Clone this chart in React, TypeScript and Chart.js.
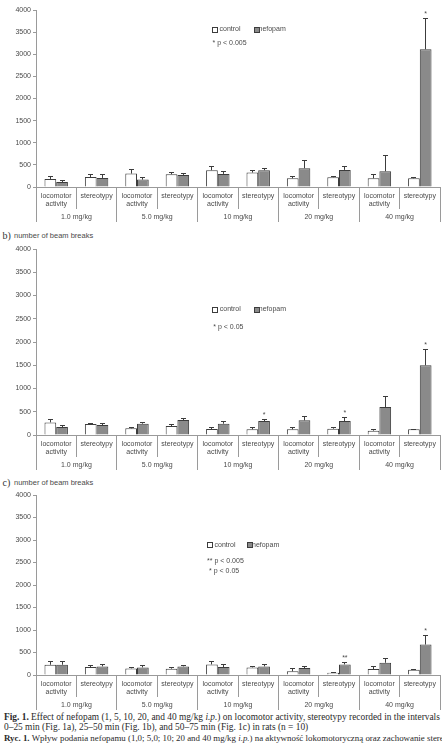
import React, { useEffect, useRef } from 'react';
import { Chart, registerables } from 'chart.js';

Chart.register(...registerables);

// Category axis: two measures per dose
const subLabels: string[][] = [
  ['locomotor', 'activity'], ['stereotypy'],
  ['locomotor', 'activity'], ['stereotypy'],
  ['locomotor', 'activity'], ['stereotypy'],
  ['locomotor', 'activity'], ['stereotypy'],
  ['locomotor', 'activity'], ['stereotypy'],
];
const doseLabels = ['1.0 mg/kg', '5.0 mg/kg', '10 mg/kg', '20 mg/kg', '40 mg/kg'];
const yMax = 4000;
const yStep = 500;

// a) 0–25 min
const controlA = [182, 227, 303, 288, 379, 326, 197, 220, 197, 197];
const controlErrA = [61, 46, 99, 30, 76, 45, 38, 15, 83, 23];
const nefopamA = [114, 205, 167, 273, 296, 379, 424, 387, 356, 3112];
const nefopamErrA = [38, 68, 38, 38, 53, 45, 182, 68, 356, 700];
const sigA = ['', '', '', '', '', '', '', '', '', '*'];

// b) 25–50 min
const controlB = [271, 236, 143, 193, 129, 122, 122, 136, 93, 122];
const controlErrB = [72, 21, 28, 43, 42, 36, 43, 29, 15, 7];
const nefopamB = [171, 214, 243, 321, 243, 301, 315, 301, 602, 1499];
const nefopamErrB = [43, 43, 21, 36, 57, 43, 86, 65, 222, 329];
const sigB = ['', '', '', '', '', '*', '', '*', '', '*'];

// c) 50–75 min
const controlC = [228, 176, 147, 140, 235, 169, 81, 52, 132, 118];
const controlErrC = [66, 37, 29, 22, 59, 22, 59, 7, 59, 14];
const nefopamC = [228, 191, 169, 191, 176, 191, 155, 235, 272, 677];
const nefopamErrC = [73, 44, 44, 15, 59, 44, 29, 52, 96, 205];
const sigC = ['', '', '', '', '', '', '', '**', '', '*'];

const SANS = '"Liberation Sans", Arial, sans-serif';
const SERIF = '"Liberation Serif", "Times New Roman", serif';
const TEXT = '#4a4a4a';
const AXIS = '#9a9a9a';
const EDGE = '#3c3c3c';
const FILL_N = '#8a8a8a';

type PanelProps = {
  top: number;
  height: number;
  padTop: number;
  axisH: number;
  control: number[];
  controlErr: number[];
  nefopam: number[];
  nefopamErr: number[];
  sig: string[];
};

const align = (v: number) => Math.round(v - 0.5) + 0.5;

function Panel(p: PanelProps) {
  const ref = useRef<HTMLCanvasElement>(null);

  useEffect(() => {
    if (!ref.current) return;
    const errs = [p.controlErr, p.nefopamErr];

    const extras = {
      id: 'beamExtras',
      afterDatasetsDraw(chart: any) {
        const ctx = chart.ctx;
        const y = chart.scales.y;
        ctx.save();
        ctx.strokeStyle = EDGE;
        ctx.lineWidth = 1;
        [0, 1].forEach((di) => {
          const meta = chart.getDatasetMeta(di);
          const vals = chart.data.datasets[di].data as number[];
          meta.data.forEach((bar: any, i: number) => {
            const x = align(bar.x);
            const y0 = y.getPixelForValue(vals[i]);
            const y1 = align(y.getPixelForValue(vals[i] + errs[di][i]));
            ctx.beginPath();
            ctx.moveTo(x, y0);
            ctx.lineTo(x, y1);
            ctx.moveTo(x - 2.5, y1);
            ctx.lineTo(x + 2.5, y1);
            ctx.stroke();
            if (di === 1 && p.sig[i]) {
              ctx.fillStyle = TEXT;
              ctx.font = `7px ${SANS}`;
              ctx.textAlign = 'center';
              ctx.textBaseline = 'bottom';
              ctx.fillText(p.sig[i], bar.x, y1 - 0.5);
            }
          });
        });
        ctx.restore();
      },
      afterDraw(chart: any) {
        const ctx = chart.ctx;
        const xs = chart.scales.x;
        const axisY = chart.chartArea.bottom;
        ctx.save();
        ctx.strokeStyle = AXIS;
        ctx.lineWidth = 1;
        for (let i = 0; i <= subLabels.length; i++) {
          const bx = align(xs.getPixelForValue(i - 0.5));
          const len = i % 2 === 0 ? 35 : 22;
          ctx.beginPath();
          ctx.moveTo(bx, axisY);
          ctx.lineTo(bx, axisY + len);
          ctx.stroke();
        }
        ctx.fillStyle = TEXT;
        ctx.font = `7px ${SANS}`;
        ctx.textAlign = 'center';
        ctx.textBaseline = 'middle';
        subLabels.forEach((lines, i) => {
          const cx = xs.getPixelForValue(i);
          lines.forEach((t, k) => ctx.fillText(t, cx, axisY + 9.5 + k * 8));
        });
        doseLabels.forEach((t, g) => {
          const cx = (xs.getPixelForValue(2 * g) + xs.getPixelForValue(2 * g + 1)) / 2;
          ctx.fillText(t, cx, axisY + 30.5);
        });
        ctx.restore();
      },
    };

    const chart = new Chart(ref.current, {
      type: 'bar',
      data: {
        labels: subLabels.map((l) => l.join(' ')),
        datasets: [
          {
            label: 'control',
            data: p.control,
            backgroundColor: '#ffffff',
            borderColor: EDGE,
            borderWidth: 1,
            barPercentage: 1,
            categoryPercentage: 0.58,
          },
          {
            label: 'nefopam',
            data: p.nefopam,
            backgroundColor: FILL_N,
            borderColor: EDGE,
            borderWidth: 1,
            barPercentage: 1,
            categoryPercentage: 0.58,
          },
        ],
      },
      options: {
        animation: false,
        responsive: true,
        maintainAspectRatio: false,
        devicePixelRatio: 1,
        layout: { padding: { top: p.padTop, right: 2, left: 0, bottom: 0 } },
        plugins: { legend: { display: false }, tooltip: { enabled: false } },
        scales: {
          x: {
            type: 'category',
            offset: true,
            grid: { display: false },
            ticks: { display: false },
            border: { display: true, color: AXIS },
            afterFit: (s: any) => {
              s.height = p.axisH;
            },
          },
          y: {
            min: 0,
            max: yMax,
            ticks: {
              stepSize: yStep,
              color: TEXT,
              padding: 2,
              font: { family: SANS, size: 7 },
              callback: (v: any) => String(v),
            },
            grid: { drawOnChartArea: false, drawTicks: true, tickLength: 3, color: AXIS },
            border: { display: true, color: AXIS },
            afterFit: (s: any) => {
              s.width = 36;
            },
          },
        },
      },
      plugins: [extras],
    });
    return () => chart.destroy();
  }, []);

  return (
    <div style={{ position: 'absolute', left: 0, top: p.top, width: 442, height: p.height }}>
      <canvas ref={ref} />
    </div>
  );
}

const txt: React.CSSProperties = {
  position: 'absolute',
  fontFamily: SANS,
  fontSize: 7,
  lineHeight: '8px',
  color: TEXT,
  whiteSpace: 'nowrap',
};

function Legend({ x, y, gap }: { x: number; y: number; gap: number }) {
  const box = (fill: string): React.CSSProperties => ({
    position: 'absolute',
    top: 0,
    width: 4,
    height: 4,
    border: `1px solid ${EDGE}`,
    background: fill,
  });
  return (
    <div style={{ position: 'absolute', left: x, top: y, width: 90, height: 8 }}>
      <div style={{ ...box('#fff'), left: 0 }} />
      <span style={{ ...txt, left: 7.5, top: -1.5 }}>control</span>
      <div style={{ ...box(FILL_N), left: gap }} />
      <span style={{ ...txt, left: gap + 5, top: -1.5 }}>nefopam</span>
    </div>
  );
}

function PanelTitle({ letter, y }: { letter: string; y: number }) {
  return (
    <>
      <span style={{ position: 'absolute', left: 2.5, top: y - 6, fontFamily: SERIF, fontSize: 10, lineHeight: '12px', color: '#333' }}>
        {letter}
      </span>
      <span style={{ ...txt, fontSize: 7.5, left: 14, top: y - 4 }}>number of beam breaks</span>
    </>
  );
}

export default function App() {
  const cap: React.CSSProperties = {
    position: 'absolute',
    left: 4,
    fontFamily: SERIF,
    fontSize: 9.4,
    lineHeight: '10px',
    color: '#2a2a2a',
    whiteSpace: 'nowrap',
  };
  return (
    <div style={{ position: 'absolute', left: 0, top: 0, width: 442, height: 754, overflow: 'hidden', background: '#fff' }}>
      <Panel top={0} height={228} padTop={10} axisH={41}
        control={controlA} controlErr={controlErrA} nefopam={nefopamA} nefopamErr={nefopamErrA} sig={sigA} />
      <Legend x={212} y={26.5} gap={41.5} />
      <span style={{ ...txt, left: 212.5, top: 38.5 }}>* p &lt; 0.005</span>

      <PanelTitle letter="b)" y={236} />
      <Panel top={240} height={235} padTop={9} axisH={40}
        control={controlB} controlErr={controlErrB} nefopam={nefopamB} nefopamErr={nefopamErrB} sig={sigB} />
      <Legend x={212.3} y={306.5} gap={41.5} />
      <span style={{ ...txt, left: 213.3, top: 323.3 }}>* p &lt; 0.05</span>

      <PanelTitle letter="c)" y={483} />
      <Panel top={487} height={225} padTop={8} axisH={37}
        control={controlC} controlErr={controlErrC} nefopam={nefopamC} nefopamErr={nefopamErrC} sig={sigC} />
      <Legend x={207} y={542.3} gap={40} />
      <span style={{ ...txt, left: 207, top: 557 }}>** p &lt; 0.005</span>
      <span style={{ ...txt, left: 209, top: 567 }}>* p &lt; 0.05</span>

      <div style={{ ...cap, top: 712 }}>
        <b>Fig. 1.</b> Effect of nefopam (1, 5, 10, 20, and 40 mg/kg <i>i.p.</i>) on locomotor activity, stereotypy recorded in the intervals
      </div>
      <div style={{ ...cap, top: 722 }}>
        0–25 min (Fig. 1a), 25–50 min (Fig. 1b), and 50–75 min (Fig. 1c) in rats (n = 10)
      </div>
      <div style={{ ...cap, fontSize: 8.9, top: 732.5 }}>
        <b>Ryc. 1.</b> Wpływ podania nefopamu (1,0; 5,0; 10; 20 and 40 mg/kg <i>i.p.</i>) na aktywność lokomotoryczną oraz zachowanie stereotypowe
      </div>
    </div>
  );
}
